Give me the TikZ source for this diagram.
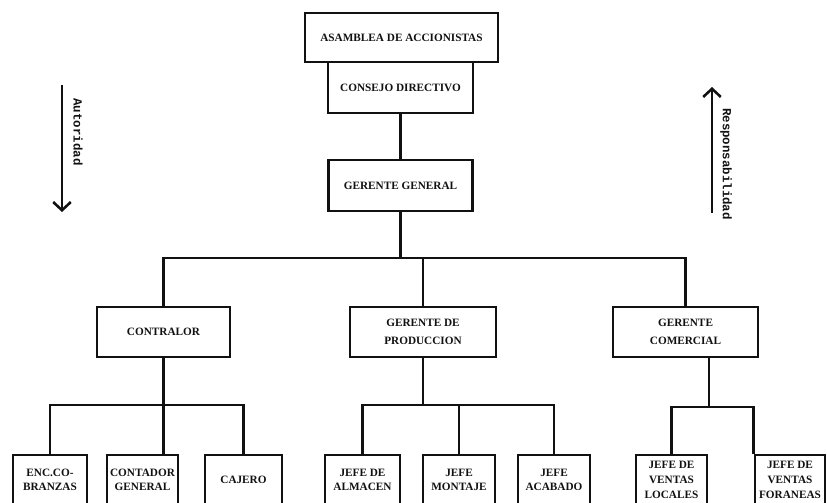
\documentclass[tikz,border=0pt]{standalone}
\usepackage{fontspec}
\setmainfont{Liberation Serif}
\setmonofont{Liberation Mono}
\usetikzlibrary{arrows.meta,calc}
\definecolor{ink}{HTML}{111111}

\begin{document}
\begin{tikzpicture}[x=0.03cm,y=-0.03cm,>={Straight Barb[length=7pt,width=15pt]},
                    line width=2.2pt,draw=ink,
                    unit/.style={draw=ink,line width=2.2pt,text=ink,inner sep=0pt,
                      align=center,font=\bfseries\fontsize{9.6}{15}\selectfont},
                    jefe/.style={unit,minimum height=1.5cm,
                      font=\bfseries\fontsize{9.6}{12.5}\selectfont},
                    side/.style={text=ink,rotate=-90,
                      font=\ttfamily\bfseries\fontsize{10.6}{12}\selectfont}]
  % pixel grid of the scanned chart, y grows downwards
  \clip (0,0) rectangle (827,503);

  % top of the organisation
  \node[unit,minimum width=5.79cm,minimum height=1.47cm] (asamblea) at (401.5,37.5)
    {ASAMBLEA DE ACCIONISTAS};
  \node[unit,minimum width=4.35cm,minimum height=1.53cm] (consejo) at (400.5,87.5)
    {CONSEJO DIRECTIVO};
  \node[unit,minimum width=4.32cm,minimum height=1.53cm] (general) at (400.5,185.5)
    {GERENTE GENERAL};

  % second level
  \node[unit,minimum width=3.99cm,minimum height=1.5cm] (contralor) at (163.5,332)
    {CONTRALOR};
  \node[unit,minimum width=4.38cm,minimum height=1.5cm] (produccion) at (423,332)
    {GERENTE DE\\PRODUCCION};
  \node[unit,minimum width=4.35cm,minimum height=1.5cm] (comercial) at (685.5,332)
    {GERENTE\\COMERCIAL};

  % third level (cut off by the page edge)
  \node[jefe,minimum width=2.22cm] (cobranzas) at (50,480) {ENC.CO-\\BRANZAS};
  \node[jefe,minimum width=2.13cm] (contador) at (142.5,480) {CONTADOR\\GENERAL};
  \node[jefe,minimum width=2.31cm] (cajero) at (243.5,480) {CAJERO};
  \node[jefe,minimum width=2.25cm] (almacen) at (362.5,480) {JEFE DE\\ALMACEN};
  \node[jefe,minimum width=2.16cm] (montaje) at (459,480) {JEFE\\MONTAJE};
  \node[jefe,minimum width=2.16cm] (acabado) at (554,480) {JEFE\\ACABADO};
  \node[jefe,minimum width=2.13cm] (locales) at (671.5,480) {JEFE DE\\VENTAS\\LOCALES};
  \node[jefe,minimum width=2.10cm] (foraneas) at (790,480) {JEFE DE\\VENTAS\\FORANEAS};

  % buses
  \coordinate (topbus) at (400.5,258);
  \coordinate (busA) at (160,405);
  \coordinate (busB) at (423,405);
  \coordinate (busC) at (709,407);

  \draw (consejo.south) -- (general.north);
  \draw (general.south) -- (topbus);
  \draw (contralor.north) |- (topbus) -| (comercial.north);
  \draw (produccion.north) -- (produccion.north |- topbus);

  \draw (contralor.south) -- (contralor.south |- contador.north);
  \draw (cobranzas.north) |- (busA) -| (cajero.north);

  \draw (produccion.south) -- (busB);
  \draw (almacen.north) |- (busB) -| (acabado.north);
  \draw (montaje.north) -- (montaje.north |- busB);

  \draw (comercial.south -| busC) -- (busC);
  \draw (locales.north) |- (busC) -| (foraneas.north west);

  % authority flows down, responsibility flows up
  \coordinate (autA) at (62,85);
  \coordinate (autB) at (62,212);
  \draw[->] (autA) -- (autB);
  \node[side] (autoridad) at (78,132) {Autoridad};

  \coordinate (resA) at (712,213);
  \coordinate (resB) at (712,87);
  \draw[->] (resA) -- (resB);
  \node[side] (responsabilidad) at (726,164) {Responsabilidad};
\end{tikzpicture}
\end{document}
